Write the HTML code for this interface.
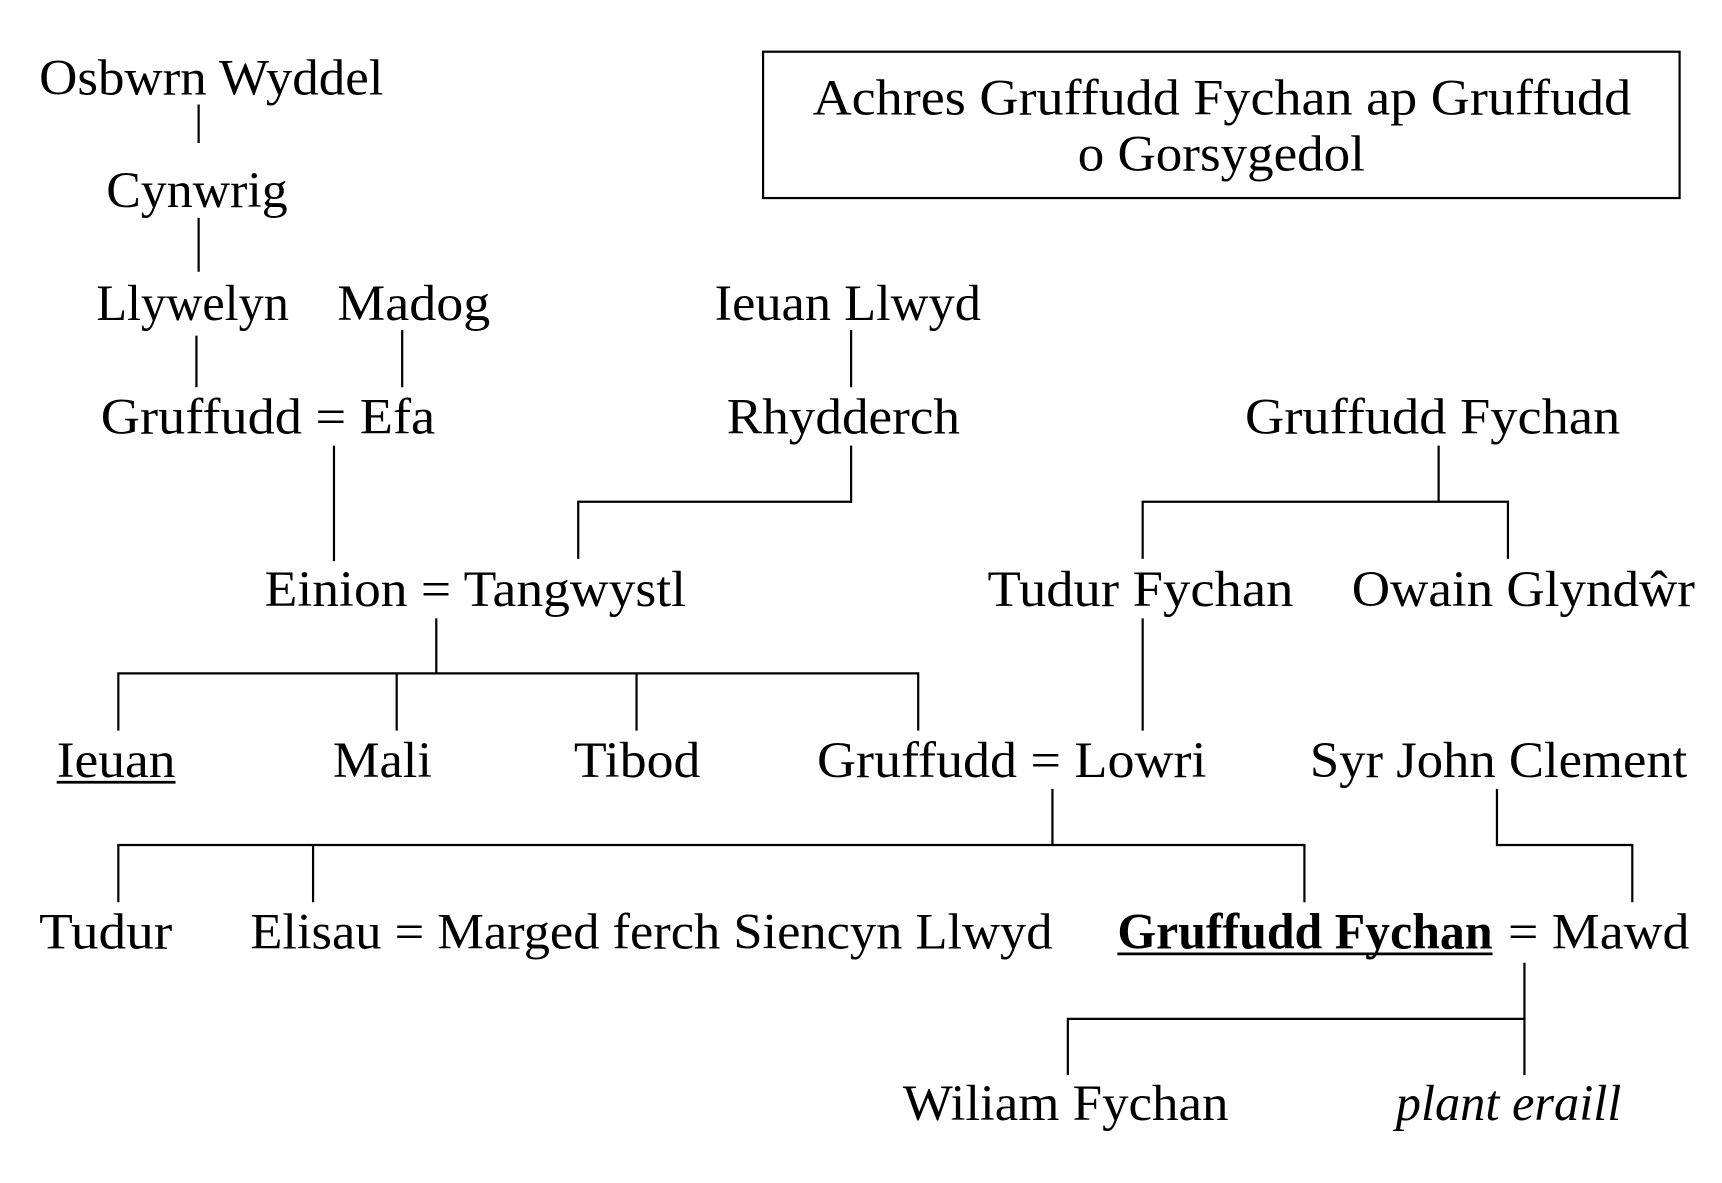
<!DOCTYPE html>
<html><head><meta charset="utf-8"><style>html,body{margin:0;padding:0;background:#fff}svg{display:block}</style></head>
<body>
<svg width="1722" height="1183" viewBox="1.5 0 1565 1075.2" xmlns="http://www.w3.org/2000/svg" font-family="Liberation Serif, serif" font-size="46" fill="#000">
<g stroke="#000" stroke-width="2" fill="none">
<rect x="695" y="47" width="833" height="133"/>
<path d="M182 95V130M182 198V247M180 305V352M367 300V352M305 405V510M775 300V352M775 405V456H527V508M1309 405V456M1040 508V456H1372V508M398 562V612M109 664V612H836V664M362 612V664M580 612V664M1040 562V664M958 717V768M109 820V768H1187V820M286 768V820M1362 717V768H1485V820M1387 875V977M972 977V926H1387"/>
<path d="M53 711H161M1017 867H1358" stroke-width="2.5"/>
</g>
<g>
<text x="740" y="104" textLength="744" lengthAdjust="spacingAndGlyphs">Achres Gruffudd Fychan ap Gruffudd</text>
<text x="981" y="155" textLength="261" lengthAdjust="spacingAndGlyphs">o Gorsygedol</text>
<text x="37" y="86" textLength="313" lengthAdjust="spacingAndGlyphs">Osbwrn Wyddel</text>
<text x="98" y="188" textLength="165" lengthAdjust="spacingAndGlyphs">Cynwrig</text>
<text x="89" y="291" textLength="175" lengthAdjust="spacingAndGlyphs">Llywelyn</text>
<text x="308" y="291" textLength="139" lengthAdjust="spacingAndGlyphs">Madog</text>
<text x="651" y="291" textLength="242" lengthAdjust="spacingAndGlyphs">Ieuan Llwyd</text>
<text x="93" y="394" textLength="304" lengthAdjust="spacingAndGlyphs">Gruffudd = Efa</text>
<text x="662" y="394" textLength="212" lengthAdjust="spacingAndGlyphs">Rhydderch</text>
<text x="1133" y="394" textLength="341" lengthAdjust="spacingAndGlyphs">Gruffudd Fychan</text>
<text x="242" y="551" textLength="383" lengthAdjust="spacingAndGlyphs">Einion = Tangwystl</text>
<text x="899" y="551" textLength="278" lengthAdjust="spacingAndGlyphs">Tudur Fychan</text>
<text x="1230" y="551" textLength="312" lengthAdjust="spacingAndGlyphs">Owain Glyndŵr</text>
<text x="53" y="706" textLength="108" lengthAdjust="spacingAndGlyphs">Ieuan</text>
<text x="304" y="706" textLength="90" lengthAdjust="spacingAndGlyphs">Mali</text>
<text x="523" y="706" textLength="115" lengthAdjust="spacingAndGlyphs">Tibod</text>
<text x="744" y="706" textLength="354" lengthAdjust="spacingAndGlyphs">Gruffudd = Lowri</text>
<text x="1192" y="706" textLength="343" lengthAdjust="spacingAndGlyphs">Syr John Clement</text>
<text x="37" y="862" textLength="121" lengthAdjust="spacingAndGlyphs">Tudur</text>
<text x="229" y="862" textLength="729" lengthAdjust="spacingAndGlyphs">Elisau = Marged ferch Siencyn Llwyd</text>
<text x="1017" y="862" font-weight="bold" textLength="341" lengthAdjust="spacingAndGlyphs">Gruffudd Fychan</text>
<text x="1372" y="862" textLength="165" lengthAdjust="spacingAndGlyphs">= Mawd</text>
<text x="822" y="1018" textLength="296" lengthAdjust="spacingAndGlyphs">Wiliam Fychan</text>
<text x="1270" y="1018" font-style="italic" textLength="205" lengthAdjust="spacingAndGlyphs">plant eraill</text>
</g>
</svg>
</body></html>
